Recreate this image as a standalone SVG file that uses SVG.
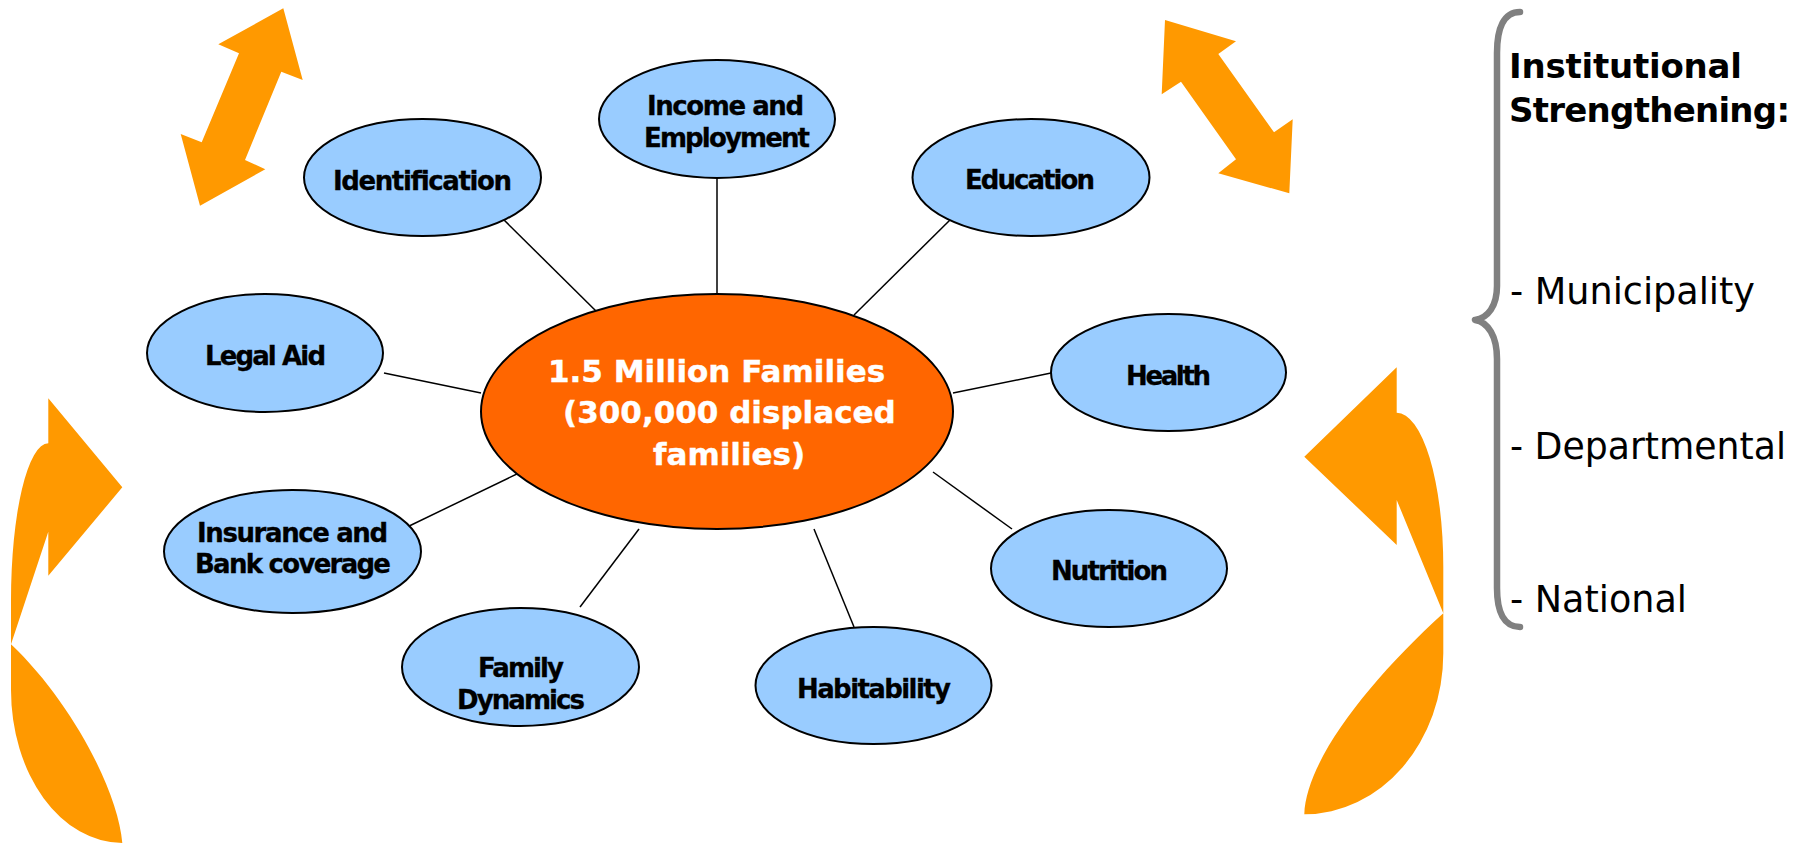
<svg xmlns="http://www.w3.org/2000/svg" width="1806" height="843" viewBox="0 0 1806 843">
  <style>
    .hub { fill: #FF6600; stroke: #000; stroke-width: 2; }
    .hub-label { fill: #FFFFFF; font-family: "DejaVu Sans", Verdana, sans-serif; font-weight: bold; font-size: 31px; stroke: #FFFFFF; stroke-width: 0.4; }
    .node { fill: #99CCFF; stroke: #000; stroke-width: 2; }
    .label { fill: #000; font-family: "DejaVu Sans", Verdana, sans-serif; font-weight: bold; font-size: 26px; stroke: #000; stroke-width: 0.3; }
    .link { stroke: #000; stroke-width: 1.5; fill: none; }
    .arrow { fill: #FF9900; stroke: none; }
    .brace { fill: none; stroke: #808080; stroke-width: 6.5; stroke-linecap: round; stroke-linejoin: round; }
    .side-title { fill: #000; font-family: "DejaVu Sans", Verdana, sans-serif; font-weight: bold; font-size: 34px; }
    .side-item { fill: #000; font-family: "DejaVu Sans", Verdana, sans-serif; font-size: 38px; }
  </style>

  <rect x="0" y="0" width="1806" height="843" fill="#FFFFFF"/>

  <!-- orange decorative arrows -->
  <g id="arrows">
    <polygon class="arrow" points="283.3,8.3 302.7,80 281.3,71.7 245,160 265.3,169.3 200,205.7 180.7,134 201.7,142.3 239,53.3 218.3,44.3"/>
    <polygon class="arrow" points="1165,20 1236,41.3 1218.3,54 1274,132.3 1292.7,119.3 1289.3,193.3 1218.3,173.3 1236,159.3 1181,81.7 1161.7,94.3"/>
    <path class="arrow" d="M48.3,443.3 A37.3,156.7 0 0 0 11,600 L11,690 A111.3,153 0 0 0 122.3,843 C118,790 70,700 11,644.3 L48.3,531.7 L48.3,575.7 L122.3,487.3 L48.3,398.3 Z"/>
    <path class="arrow" d="M1396.7,412.7 A46.6,154 0 0 1 1443.3,566.7 L1443.3,653.3 A139,161 0 0 1 1304.3,814.3 C1306,760 1370,680 1443.3,613.3 L1396.7,500 L1396.7,545 L1304.3,456.7 L1396.7,367.3 Z"/>
  </g>

  <!-- spokes from the hub to each theme -->
  <g id="connectors">
    <line class="link" x1="502" y1="218" x2="599" y2="314"/>
    <line class="link" x1="717" y1="178" x2="717" y2="295"/>
    <line class="link" x1="952" y1="218" x2="854" y2="315"/>
    <line class="link" x1="384" y1="373" x2="481" y2="393"/>
    <line class="link" x1="953" y1="393" x2="1051" y2="373"/>
    <line class="link" x1="403" y1="529" x2="521" y2="472"/>
    <line class="link" x1="933" y1="472" x2="1012" y2="529"/>
    <line class="link" x1="580" y1="607" x2="639" y2="529"/>
    <line class="link" x1="814" y1="529" x2="854" y2="627"/>
  </g>

  <g id="hub">
    <ellipse class="hub" cx="717" cy="411.5" rx="236" ry="117.5"/>
    <text class="hub-label" x="548" y="382">1.5 Million Families</text>
    <text class="hub-label" x="563" y="423">(300,000 displaced</text>
    <text class="hub-label" x="653" y="465">families)</text>
  </g>

  <g id="node-identification">
    <ellipse class="node" cx="422.5" cy="177.5" rx="118.5" ry="58.5"/>
    <text class="label" x="333" y="190" textLength="179">Identification</text>
  </g>

  <g id="node-income">
    <ellipse class="node" cx="717" cy="119" rx="118" ry="59"/>
    <text class="label" x="647" y="115" textLength="157">Income and</text>
    <text class="label" x="644" y="147" textLength="166">Employment</text>
  </g>

  <g id="node-education">
    <ellipse class="node" cx="1031" cy="177.5" rx="118.5" ry="58.5"/>
    <text class="label" x="965" y="189" textLength="130">Education</text>
  </g>

  <g id="node-legal-aid">
    <ellipse class="node" cx="265" cy="353" rx="118" ry="59"/>
    <text class="label" x="205" y="365" textLength="121">Legal Aid</text>
  </g>

  <g id="node-health">
    <ellipse class="node" cx="1168.5" cy="372.5" rx="117.5" ry="58.5"/>
    <text class="label" x="1126" y="385" textLength="85">Health</text>
  </g>

  <g id="node-insurance">
    <ellipse class="node" cx="292.5" cy="551.5" rx="128.5" ry="61.5"/>
    <text class="label" x="197" y="542" textLength="191">Insurance and</text>
    <text class="label" x="195" y="573" textLength="196">Bank coverage</text>
  </g>

  <g id="node-nutrition">
    <ellipse class="node" cx="1109" cy="568.5" rx="118" ry="58.5"/>
    <text class="label" x="1051" y="580" textLength="117">Nutrition</text>
  </g>

  <g id="node-family">
    <ellipse class="node" cx="520.5" cy="667" rx="118.5" ry="59"/>
    <text class="label" x="478" y="677" textLength="86">Family</text>
    <text class="label" x="457" y="709" textLength="128">Dynamics</text>
  </g>

  <g id="node-habitability">
    <ellipse class="node" cx="873.5" cy="685.5" rx="118" ry="58.5"/>
    <text class="label" x="797" y="698" textLength="154">Habitability</text>
  </g>

  <!-- institutional levels bracket -->
  <g id="institutional">
    <path class="brace" d="M1520,12 C1504,12 1497,28 1497,53 L1497,286 C1497,306 1488,318 1475,320 C1488,322 1497,336 1497,359 L1497,588 C1497,612 1504,627 1520,627"/>
    <text class="side-title" x="1509" y="78" textLength="233">Institutional</text>
    <text class="side-title" x="1509" y="122" textLength="281">Strengthening:</text>
    <text class="side-item" x="1510" y="304" textLength="245" lengthAdjust="spacingAndGlyphs">- Municipality</text>
    <text class="side-item" x="1510" y="459" textLength="276" lengthAdjust="spacingAndGlyphs">- Departmental</text>
    <text class="side-item" x="1510" y="612" textLength="177" lengthAdjust="spacingAndGlyphs">- National</text>
  </g>
</svg>
